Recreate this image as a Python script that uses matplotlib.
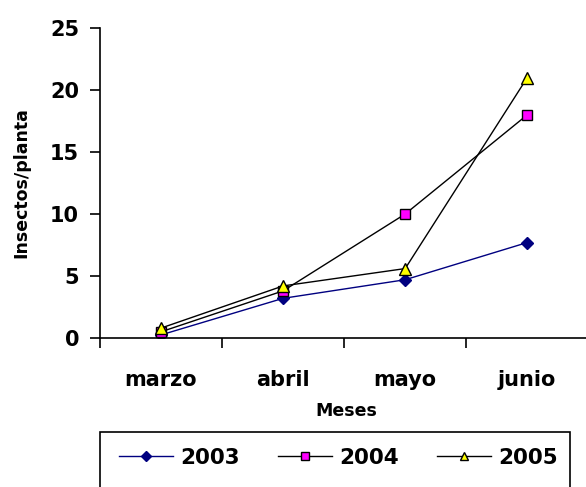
import matplotlib.pyplot as plt
from matplotlib.patches import Rectangle

meses = ['marzo', 'abril', 'mayo', 'junio']
y2003 = [0.25, 3.2, 4.7, 7.7]
y2004 = [0.5, 3.8, 10.0, 18.0]
y2005 = [0.8, 4.2, 5.6, 21.0]

W, H = 586, 487
fig = plt.figure(figsize=(W / 100, H / 100), dpi=100)
ax = fig.add_axes([100 / W, 1 - 338 / H, 492 / W, 310 / H])

x = range(len(meses))
ax.plot(x, y2003, color='#000080', lw=1, marker='D', ms=6.5,
        mfc='#000080', mec='#000080', label='2003')
ax.plot(x, y2004, color='black', lw=1, marker='s', ms=7.5,
        mfc='#ff00ff', mec='black', label='2004')
ax.plot(x, y2005, color='black', lw=1, marker='^', ms=8,
        mfc='#ffff00', mec='black', label='2005')

ax.set_xlim(-0.5, 3.53)
ax.set_ylim(0, 25)
ax.set_yticks([0, 5, 10, 15, 20, 25])
ax.set_xticks(list(x))
ax.set_xticklabels(meses)
ax.set_xticks([-0.5, 0.5, 1.5, 2.5, 3.5], minor=True)
ax.tick_params(axis='x', which='major', length=0, pad=23, labelsize=15)
ax.tick_params(axis='x', which='minor', length=7, width=1.2, direction='out')
ax.tick_params(axis='y', length=7, width=1.2, pad=8, labelsize=15)
for lab in ax.get_xticklabels() + ax.get_yticklabels():
    lab.set_fontweight('bold')

for s in ['top', 'right']:
    ax.spines[s].set_visible(False)
for s in ['left', 'bottom']:
    ax.spines[s].set_linewidth(1.2)

ax.set_ylabel('Insectos/planta', fontsize=12.5, fontweight='bold', labelpad=14)
ax.set_xlabel('Meses', fontsize=12.5, fontweight='bold', labelpad=9)

# legend frame (bottom edge runs off the image)
fig.patches.append(Rectangle((100 / W, -0.05), 470 / W, 0.05 + 1 - 432 / H,
                             transform=fig.transFigure, fill=False,
                             edgecolor='black', lw=1.2))
leg = fig.legend(loc='center left', bbox_to_anchor=(100 / W, 1 - 458 / H),
                 ncol=3, frameon=False, handlelength=2.5, handletextpad=0.35,
                 columnspacing=1.75, markerscale=0.8,
                 prop={'weight': 'bold', 'size': 15.5})

fig.savefig('out.png', dpi=100)
